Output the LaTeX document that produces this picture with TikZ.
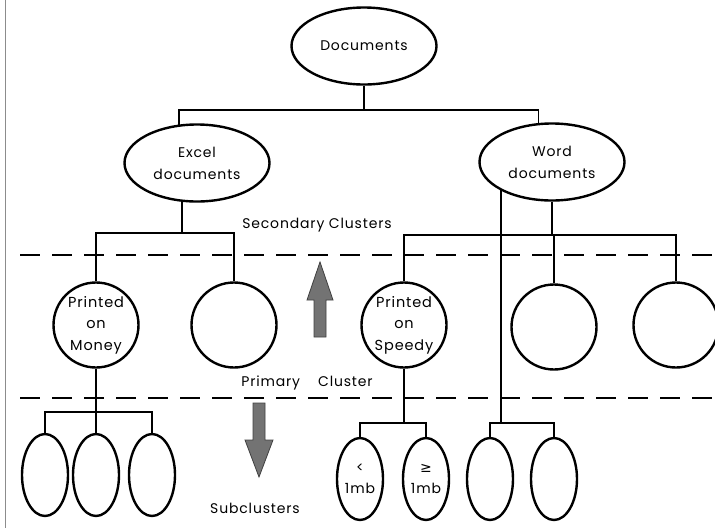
\documentclass[tikz,border=0pt]{standalone}
\usepackage{fontspec}
\setmainfont{Poppins}[LetterSpace=6]
\newfontfamily\symfont{DejaVu Sans}
\usetikzlibrary{shapes.geometric}

\begin{document}
\begin{tikzpicture}[x=1pt,y=-1pt,
  oval/.style={draw, ellipse, line width=2.4pt, minimum width=145pt, minimum height=77pt, inner sep=0pt, align=center, font=\fontsize{14}{22}\selectfont},
  ball/.style={draw, circle, line width=2.4pt, minimum size=85pt, inner sep=-14pt, align=center, font=\fontsize{14.5}{21.5}\selectfont},
  pod/.style={draw, ellipse, line width=2.4pt, minimum width=46pt, minimum height=82pt, inner sep=-6pt, align=center, font=\fontsize{14}{21}\selectfont},
  link/.style={line width=1.8pt},
  cut/.style={line width=2pt, dash pattern=on 20pt off 12pt},
  tag/.style={font=\fontsize{14}{16}\selectfont}]
\useasboundingbox (0,0) rectangle (715,528);

\coordinate (A1) at (364, 46);
\coordinate (A2) at (197,163);
\coordinate (A3) at (552,162);
\coordinate (A4) at ( 96,325);
\coordinate (A5) at (234,325);
\coordinate (A6) at (404,325);
\coordinate (A7) at (554,327);
\coordinate (A8) at (676,325);
\coordinate (J1) at (364,110);
\coordinate (J2) at (182,233);
\coordinate (J3) at (552,235);
\coordinate (J4) at (502,423);
\coordinate (J5) at ( 96,412);
\coordinate (J6) at (404,423);

\draw[black!45, line width=0.8pt] (5,0) -- (5,528);

\node[oval] (N1) at (A1) {Documents};
\node[oval] (N2) at (A2) {Excel\\documents};
\node[oval] (N3) at (A3) {Word\\documents};
\node[ball] (N4) at (A4) {Printed\\on\\Money};
\node[ball] (N5) at (A5) {};
\node[ball] (N6) at (A6) {Printed\\on\\Speedy};
\node[ball] (N7) at (A7) {};
\node[ball] (N8) at (A8) {};
\node[pod]  (N9)  at ( 45,475) {};
\node[pod]  (N10) at ( 96,475) {};
\node[pod]  (N11) at (152,475) {};
\node[pod]  (N12) at (360,479) {<\\1mb};
\node[pod]  (N13) at (426,479) {{\symfont ≥}\\1mb};
\node[pod]  (N14) at (490,479) {};
\node[pod]  (N15) at (554,479) {};

\node[tag] (T1) at (317,225) {Secondary Clusters};
\node[tag] (T2) at (307,383) {Primary\hspace{18pt}Cluster};
\node[tag] (T3) at (255,508) {Subclusters};

\draw[cut] (20,255) -- (715,255);
\draw[cut] (20,398) -- (715,398);

\draw[link] (N1) -- (J1);
\draw[link] (N2.115) |- (J1) -| (N3.109);
\draw[link] (N2.249) |- (J2);
\draw[link] (N4.north) |- (J2) -| (N5.north);
\draw[link] (N3.south) -- (J3);
\draw[link] (N6.north) |- (J3) -| (N8.north);
\draw[link] (N7.north) -- (N7.north |- J3);
\draw[link] (N3.209) |- (J4);
\draw[link] (N14.north) |- (J4) -| (N15.north);
\draw[link] (N4.south) -- (N10.north);
\draw[link] (N9.north) |- (J5) -| (N11.north);
\draw[link] (N6.south) -- (J6);
\draw[link] (N12.north) |- (J6) -| (N13.north);

\filldraw[fill=black!55, draw=black!75, line width=0.8pt] (314,337) -- (314,300) -- (307,300) -- (320,262) -- (333,300) -- (326,300) -- (326,337) -- cycle;
\filldraw[fill=black!55, draw=black!75, line width=0.8pt] (253,403) -- (253,440) -- (245,440) -- (259,477) -- (273,440) -- (265,440) -- (265,403) -- cycle;

\end{tikzpicture}
\end{document}
